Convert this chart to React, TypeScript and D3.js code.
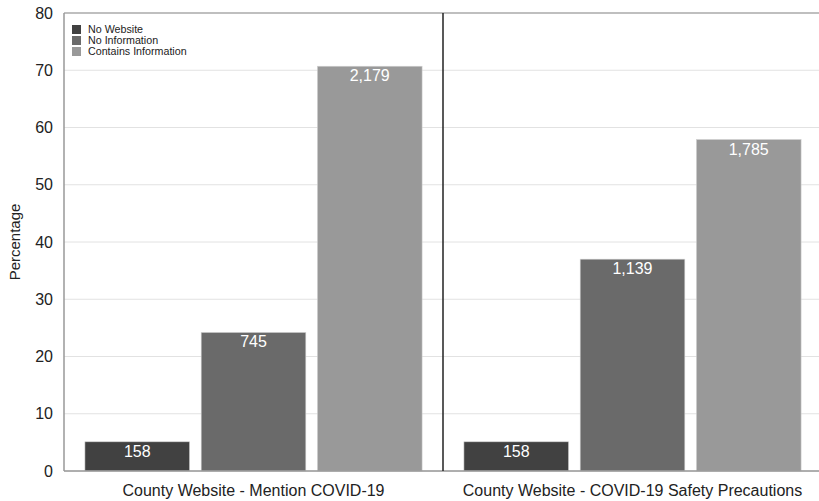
import React from "react";
import * as d3 from "d3";

// data
const groups = ["County Website - Mention COVID-19", "County Website - COVID-19 Safety Precautions"];
const seriesNames = ["No Website", "No Information", "Contains Information"];
const seriesColors = ["#414141", "#6a6a6a", "#999999"];
const percentMention = [5.1, 24.2, 70.7];
const percentSafety = [5.1, 37.0, 57.9];
const countMention = ["158", "745", "2,179"];
const countSafety = ["158", "1,139", "1,785"];
const yTicks = [0, 10, 20, 30, 40, 50, 60, 70, 80];

const W = 819;
const H = 501;
const margin = { top: 13, right: -3, bottom: 30, left: 64 };

const App = () => {
  const percents = [percentMention, percentSafety];
  const counts = [countMention, countSafety];

  const x0 = d3
    .scaleBand<string>()
    .domain(groups)
    .range([margin.left, W - margin.right])
    .padding(0);
  const x1 = d3
    .scaleBand<string>()
    .domain(seriesNames)
    .range([0, x0.bandwidth()])
    .paddingInner(0.1)
    .paddingOuter(0.18);
  const y = d3
    .scaleLinear()
    .domain([0, 80])
    .range([H - margin.bottom, margin.top]);

  const font = "'Liberation Sans', Arial, Helvetica, sans-serif";
  const divider = x0(groups[1]) ?? 0;

  return (
    <svg
      width={W}
      height={H}
      style={{ position: "absolute", left: 0, top: 0, background: "#fff" }}
      fontFamily={font}
    >
      {/* grid */}
      {yTicks.map((t) => (
        <line
          key={"g" + t}
          x1={margin.left}
          x2={W}
          y1={y(t)}
          y2={y(t)}
          stroke={t === 80 ? "#aaa" : "#e2e2e2"}
          strokeWidth={t === 80 ? 1.5 : 1}
        />
      ))}
      {/* y ticks */}
      {yTicks.map((t) => (
        <text
          key={"t" + t}
          x={margin.left - 11}
          y={y(t)}
          dy="0.35em"
          textAnchor="end"
          fontSize={16}
          fill="#222"
        >
          {t}
        </text>
      ))}
      <text
        transform={`translate(20,${(y(0) + y(80)) / 2}) rotate(-90)`}
        textAnchor="middle"
        fontSize={15}
        fill="#222"
      >
        Percentage
      </text>

      {/* bars */}
      {groups.map((g, gi) => (
        <g key={g} transform={`translate(${x0(g)},0)`}>
          {seriesNames.map((s, si) => {
            const v = percents[gi][si];
            const bx = x1(s) ?? 0;
            return (
              <g key={s}>
                <rect
                  x={bx}
                  y={y(v)}
                  width={x1.bandwidth()}
                  height={y(0) - y(v)}
                  fill={seriesColors[si]}
                  stroke="#cfcfcf"
                  strokeWidth={0.6}
                />
                <text
                  x={bx + x1.bandwidth() / 2}
                  y={y(v) + 15}
                  textAnchor="middle"
                  fontSize={16}
                  fill="#fff"
                >
                  {counts[gi][si]}
                </text>
              </g>
            );
          })}
          <text
            x={x0.bandwidth() / 2}
            y={H - 5}
            textAnchor="middle"
            fontSize={16}
            fill="#222"
          >
            {g}
          </text>
        </g>
      ))}

      {/* axes */}
      <line x1={margin.left} x2={margin.left} y1={margin.top} y2={y(0)} stroke="#999" strokeWidth={1.5} />
      <line x1={margin.left} x2={W} y1={y(0)} y2={y(0)} stroke="#999" strokeWidth={1.5} />
      <line x1={divider} x2={divider} y1={margin.top} y2={y(0)} stroke="#222" strokeWidth={1.5} />

      {/* legend */}
      {seriesNames.map((s, i) => (
        <g key={"l" + s} transform={`translate(72,${25 + i * 11})`}>
          <rect x={0} y={0} width={9} height={9} fill={seriesColors[i]} />
          <text x={16} y={8} fontSize={10.7} fill="#222">
            {s}
          </text>
        </g>
      ))}
    </svg>
  );
};

export default App;
